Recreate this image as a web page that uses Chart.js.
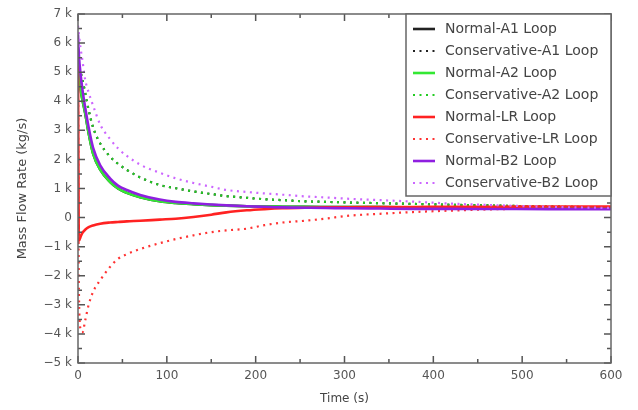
<!DOCTYPE html>
<html>
<head>
<meta charset="utf-8">
<script src="https://cdn.jsdelivr.net/npm/chart.js@4"></script>
<style>
html,body{margin:0;padding:0;background:#fff}
#wrap{width:638px;height:410px}
</style>
</head>
<body>
<div id="wrap"><canvas id="c" width="638" height="410"></canvas></div>
<script>
// time samples (s)
const times=[0,1,3,5,8,12,17,25,36,45,55,70,92,110,130,150,167,190,210,230,255,280,303,340,377,420,475,530,600];

// A1 loop runs underneath A2 and cannot be told apart in the picture
const normA1=[5300,4900,4400,4050,3600,2900,2200,1650,1230,1000,850,700,560,500,460,430,410,390,380,375,370,365,360,360,355,355,350,350,350];
const consA1=[5600,5300,5000,4750,4300,3700,3100,2550,2100,1850,1640,1380,1120,1010,900,810,740,680,630,600,560,540,520,495,470,440,410,380,350];
const normA2=[5300,4900,4400,4050,3600,2900,2200,1650,1230,1000,850,700,560,500,460,430,410,390,380,375,370,365,360,360,355,355,350,350,350];
const consA2=[5600,5300,5000,4750,4300,3700,3100,2550,2100,1850,1640,1380,1120,1010,900,810,740,680,630,600,560,540,520,495,470,440,410,380,350];
const normLR=[5200,-800,-650,-520,-420,-330,-270,-210,-170,-150,-130,-110,-70,-40,20,100,180,250,290,320,340,350,355,360,365,370,375,380,380];
const consLR=[5200,-2500,-3850,-3950,-3550,-3000,-2550,-2150,-1700,-1420,-1260,-1080,-880,-740,-610,-500,-440,-380,-260,-170,-110,-30,60,130,190,240,290,320,340];
const normB2=[6300,5600,4900,4400,3800,3100,2400,1800,1350,1100,950,780,620,540,490,450,420,390,370,350,340,330,320,310,300,300,295,290,290];
const consB2=[6600,6300,5800,5400,4750,4300,3850,3200,2700,2380,2120,1820,1540,1350,1190,1060,950,880,830,790,730,690,650,600,550,480,420,370,330];

const yMin=-5000,yMax=7000,xMax=600;
const FONT='"DejaVu Sans", sans-serif';

const pts=v=>v.map((y,i)=>({x:times[i],y}));
let n=0;
function ds(label,vals,color,dotted){
  return {label,data:pts(vals),borderColor:color,backgroundColor:color,
    borderWidth:dotted?2.2:2.6,borderDash:dotted?[2,4.5]:[],pointRadius:0,
    cubicInterpolationMode:'monotone',fill:false,order:20-(n++)};
}

// inward ticks on all four sides + frame
const frame={id:'frame',afterDatasetsDraw(ch){
  const {ctx,chartArea:a,scales:{x,y}}=ch;
  ctx.save();ctx.strokeStyle='#555';ctx.lineWidth=1.5;
  ctx.beginPath();
  for(let t=0;t<=xMax;t+=50){
    const px=x.getPixelForValue(t),len=t%100===0?7:4;
    ctx.moveTo(px,a.bottom);ctx.lineTo(px,a.bottom-len);
    ctx.moveTo(px,a.top);ctx.lineTo(px,a.top+len);
  }
  for(let v=yMin;v<=yMax;v+=500){
    const py=y.getPixelForValue(v),len=v%1000===0?7:4;
    ctx.moveTo(a.left,py);ctx.lineTo(a.left+len,py);
    ctx.moveTo(a.right,py);ctx.lineTo(a.right-len,py);
  }
  ctx.stroke();
  ctx.strokeStyle='#666';
  ctx.strokeRect(a.left,a.top,a.right-a.left,a.bottom-a.top);
  ctx.restore();
}};

// boxed legend, top right inside the plot
const legendBox={id:'legendBox',afterDraw(ch){
  const {ctx,chartArea:a}=ch;
  const w=205,rowH=22,h=rowH*ch.data.datasets.length+6;
  const lx=a.right-w,ly=a.top;
  ctx.save();
  ctx.fillStyle='#fff';ctx.fillRect(lx,ly,w,h);
  ctx.strokeStyle='#666';ctx.lineWidth=1.5;ctx.strokeRect(lx,ly,w,h);
  ctx.font='14px '+FONT;ctx.textBaseline='middle';
  ch.data.datasets.forEach((d,i)=>{
    const cy=ly+15+i*rowH;
    ctx.strokeStyle=d.borderColor;ctx.lineWidth=d.borderWidth;
    ctx.setLineDash(d.borderDash);
    ctx.beginPath();ctx.moveTo(lx+7,cy);ctx.lineTo(lx+29,cy);ctx.stroke();
    ctx.setLineDash([]);
    ctx.fillStyle='#444';ctx.fillText(d.label,lx+39,cy);
  });
  ctx.restore();
}};

new Chart(document.getElementById('c'),{
  type:'line',
  data:{datasets:[
    ds('Normal-A1 Loop',normA1,'#222222',false),
    ds('Conservative-A1 Loop',consA1,'#222222',true),
    ds('Normal-A2 Loop',normA2,'#33e833',false),
    ds('Conservative-A2 Loop',consA2,'#22cc22',true),
    ds('Normal-LR Loop',normLR,'#ff2222',false),
    ds('Conservative-LR Loop',consLR,'#ff3333',true),
    ds('Normal-B2 Loop',normB2,'#8f1fe0',false),
    ds('Conservative-B2 Loop',consB2,'#cc66ff',true)
  ]},
  options:{
    responsive:false,animation:false,
    layout:{padding:{top:14,right:27,left:0,bottom:0}},
    plugins:{legend:{display:false},tooltip:{enabled:false}},
    scales:{
      x:{type:'linear',min:0,max:xMax,
        grid:{display:false,drawTicks:false},border:{display:false},
        ticks:{stepSize:100,padding:6,color:'#555',font:{family:FONT,size:12}},
        title:{display:true,text:'Time (s)',color:'#444',font:{family:FONT,size:12},padding:{top:4,bottom:4}},
        afterFit(s){s.height=47;}
      },
      y:{min:yMin,max:yMax,
        grid:{display:false,drawTicks:false},border:{display:false},
        ticks:{stepSize:1000,padding:6,color:'#555',font:{family:FONT,size:12},
          callback:v=>v===0?'0':(v<0?'\u2212':'')+Math.abs(v/1000)+' k'},
        title:{display:true,text:'Mass Flow Rate (kg/s)',color:'#444',font:{family:FONT,size:13},padding:{top:15,bottom:0}},
        afterFit(s){s.width=78;}
      }
    }
  },
  plugins:[frame,legendBox]
});
</script>
</body>
</html>
